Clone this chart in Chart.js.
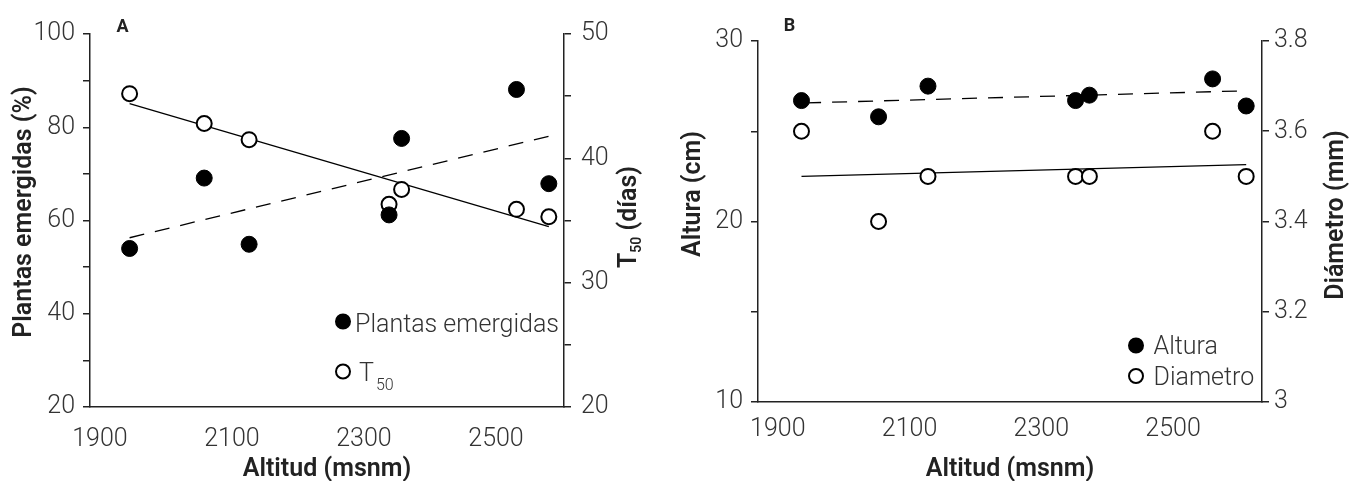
<!DOCTYPE html>
<html>
<head>
<meta charset="utf-8">
<script src="https://cdn.jsdelivr.net/npm/chart.js@4.4.0/dist/chart.umd.min.js"></script>
<style>
  html, body { margin: 0; padding: 0; background: #fff; }
  #wrap { position: relative; width: 1363px; height: 481px; }
  #wrap canvas { position: absolute; top: 0; }
</style>
</head>
<body>
<div id="wrap">
  <canvas id="chartA" width="680" height="481" style="left:0"></canvas>
  <canvas id="chartB" width="683" height="481" style="left:680px"></canvas>
</div>
<script>
// panel A : emergence and T50 vs altitude
const altA = [1945, 2058, 2126, 2338, 2357, 2531, 2580];
const emergidas = [54.0, 69.1, 54.9, 61.2, 77.6, 88.1, 67.9];
const t50 = [45.2, 42.8, 41.5, 36.3, 37.5, 35.9, 35.3];
const emergidasFitX = [1945, 2581];
const emergidasFit = [56.3, 78.1];
const t50FitX = [1945, 2580];
const t50Fit = [44.4, 34.5];

// panel B : height and diameter vs altitude
const altB = [1936, 2053, 2128, 2352, 2373, 2560, 2611];
const altura = [26.7, 25.8, 27.5, 26.7, 27.0, 27.9, 26.4];
const diametro = [3.6, 3.4, 3.5, 3.5, 3.5, 3.6, 3.5];
const alturaFitX = [1943, 2600];
const alturaFit = [26.57, 27.23];
const diametroFitX = [1936, 2611];
const diametroFit = [3.500, 3.526];

// ticks
const xTicks = [1900, 2100, 2300, 2500];
const emergidasTicks = [20, 30, 40, 50, 60, 70, 80, 90, 100];
const emergidasLabels = [20, 40, 60, 80, 100];
const t50Ticks = [20, 25, 30, 35, 40, 45, 50];
const t50Labels = [20, 30, 40, 50];
const alturaTicks = [10, 15, 20, 25, 30];
const alturaLabels = [10, 20, 30];
const diametroTicks = [3, 3.2, 3.4, 3.6, 3.8];
const diametroLabels = [3, 3.2, 3.4, 3.6, 3.8];

Chart.defaults.font.family = 'Roboto';
Chart.defaults.color = '#333';

const INK = '#222';
const tickFont = { family: 'Roboto', size: 25, weight: '300' };

function pts(xs, ys) {
  return xs.map((x, i) => ({ x: x, y: ys[i] }));
}

function xAxis(min, max, height, pad) {
  return {
    type: 'linear', position: 'bottom', min: min, max: max,
    afterBuildTicks: s => { s.ticks = xTicks.map(v => ({ value: v })); },
    afterFit: s => { s.height = height; },
    grid: { display: false, drawTicks: false },
    border: { display: true, color: INK, width: 1.5 },
    ticks: { font: tickFont, color: '#333', padding: pad, autoSkip: false, maxRotation: 0,
      callback: v => String(v) },
    title: { display: true, text: 'Altitud (msnm)', color: INK,
      font: { family: 'Roboto', size: 25, weight: '600', lineHeight: 0.92 }, padding: 0 }
  };
}

function yAxis(pos, min, max, ticks, labels, width, pad) {
  return {
    type: 'linear', position: pos, min: min, max: max,
    afterBuildTicks: s => { s.ticks = ticks.map(v => ({ value: v })); },
    afterFit: s => { s.width = width; },
    grid: { drawOnChartArea: false, drawTicks: true, tickLength: 7, color: INK, lineWidth: 1.5 },
    border: { display: true, color: INK, width: 1.5 },
    ticks: { font: tickFont, color: '#333', padding: pad, autoSkip: false,
      callback: v => labels.includes(v) ? String(Math.round(v * 10) / 10) : '' }
  };
}

function drawVTitle(ctx, t) {
  const big = '600 25px Roboto';
  const small = '600 14px Roboto';
  let total = 0;
  t.parts.forEach(p => { ctx.font = p.sub ? small : big; p.w = ctx.measureText(p.t).width; total += p.w; });
  ctx.save();
  ctx.translate(t.x, t.y);
  ctx.rotate(-Math.PI / 2);
  ctx.fillStyle = INK;
  ctx.textAlign = 'left';
  ctx.textBaseline = 'middle';
  let cx = -total / 2;
  t.parts.forEach(p => {
    ctx.font = p.sub ? small : big;
    ctx.fillText(p.t, cx, p.sub ? 7 : 0);
    cx += p.w;
  });
  ctx.restore();
}

const decor = {
  id: 'decor',
  afterDraw(chart, args, o) {
    const ctx = chart.ctx;
    ctx.save();
    ctx.fillStyle = INK;
    ctx.font = 'bold 18px Roboto';
    ctx.textAlign = 'center';
    ctx.textBaseline = 'middle';
    ctx.fillText(o.letter.text, o.letter.x, o.letter.y);
    o.titles.forEach(t => drawVTitle(ctx, t));
    o.legend.forEach(it => {
      ctx.beginPath();
      ctx.arc(it.x, it.y, 7, 0, Math.PI * 2);
      ctx.lineWidth = 2;
      ctx.strokeStyle = '#000';
      ctx.fillStyle = it.filled ? '#000' : '#fff';
      ctx.fill();
      ctx.stroke();
      ctx.fillStyle = '#333';
      ctx.textAlign = 'left';
      ctx.textBaseline = 'alphabetic';
      ctx.font = '300 25px Roboto';
      ctx.fillText(it.text, it.tx, it.ty);
      if (it.sub) {
        const w = ctx.measureText(it.text).width;
        ctx.font = '300 16px Roboto';
        ctx.fillText(it.sub, it.tx + w + 2, it.ty + 9);
      }
    });
    ctx.restore();
  }
};

const filledPts = { pointRadius: 8, pointHoverRadius: 8, pointBackgroundColor: '#000',
  pointBorderColor: '#000', pointBorderWidth: 1, showLine: false, order: 1 };
const openPts = { pointRadius: 7.5, pointHoverRadius: 7.5, pointBackgroundColor: '#fff',
  pointBorderColor: '#000', pointBorderWidth: 2, showLine: false, order: 1 };
const fitLine = { showLine: true, pointRadius: 0, borderColor: '#000', borderWidth: 1.3,
  fill: false, order: 2 };

new Chart(document.getElementById('chartA'), {
  type: 'scatter',
  data: {
    datasets: [
      Object.assign({ label: 'Plantas emergidas', data: pts(altA, emergidas), yAxisID: 'y' }, filledPts),
      Object.assign({ label: 'T50', data: pts(altA, t50), yAxisID: 'y2' }, openPts),
      Object.assign({ label: 'fit emergidas', data: pts(emergidasFitX, emergidasFit), yAxisID: 'y', borderDash: [15, 11] }, fitLine),
      Object.assign({ label: 'fit T50', data: pts(t50FitX, t50Fit), yAxisID: 'y2' }, fitLine)
    ]
  },
  options: {
    responsive: false,
    animation: false,
    devicePixelRatio: 1,
    layout: { padding: { top: 34, left: 0, right: 0, bottom: 0 } },
    scales: {
      x: xAxis(1885, 2603, 74, 18),
      y: yAxis('left', 20, 100, emergidasTicks, emergidasLabels, 90, 8),
      y2: yAxis('right', 20, 50, t50Ticks, t50Labels, 116, 10)
    },
    plugins: {
      legend: { display: false },
      tooltip: { enabled: false },
      decor: {
        letter: { text: 'A', x: 122.5, y: 27 },
        titles: [
          { parts: [{ t: 'Plantas emergidas (%)' }], x: 25, y: 212 },
          { parts: [{ t: 'T' }, { t: '50', sub: true }, { t: ' (días)' }], x: 630, y: 217 }
        ],
        legend: [
          { x: 343, y: 321.5, filled: true, text: 'Plantas emergidas', tx: 355, ty: 331.5 },
          { x: 343, y: 371.5, filled: false, text: 'T', sub: '50', tx: 359, ty: 380.5 }
        ]
      }
    }
  },
  plugins: [decor]
});

new Chart(document.getElementById('chartB'), {
  type: 'scatter',
  data: {
    datasets: [
      Object.assign({ label: 'Altura', data: pts(altB, altura), yAxisID: 'y' }, filledPts),
      Object.assign({ label: 'Diametro', data: pts(altB, diametro), yAxisID: 'y2' }, openPts),
      Object.assign({ label: 'fit altura', data: pts(alturaFitX, alturaFit), yAxisID: 'y', borderDash: [15, 11] }, fitLine),
      Object.assign({ label: 'fit diametro', data: pts(diametroFitX, diametroFit), yAxisID: 'y2' }, fitLine)
    ]
  },
  options: {
    responsive: false,
    animation: false,
    devicePixelRatio: 1,
    layout: { padding: { top: 41, left: 0, right: 0, bottom: 0 } },
    scales: {
      x: xAxis(1870, 2635, 79, 13),
      y: yAxis('left', 10, 30, alturaTicks, alturaLabels, 78, 8),
      y2: yAxis('right', 3, 3.8, diametroTicks, diametroLabels, 101, 5)
    },
    plugins: {
      legend: { display: false },
      tooltip: { enabled: false },
      decor: {
        letter: { text: 'B', x: 109.5, y: 26 },
        titles: [
          { parts: [{ t: 'Altura (cm)' }], x: 14, y: 194 },
          { parts: [{ t: 'Diámetro (mm)' }], x: 657, y: 215 }
        ],
        legend: [
          { x: 456, y: 345.5, filled: true, text: 'Altura', tx: 473.5, ty: 353.5 },
          { x: 456, y: 376, filled: false, text: 'Diametro', tx: 473.5, ty: 385 }
        ]
      }
    }
  },
  plugins: [decor]
});
</script>
</body>
</html>
